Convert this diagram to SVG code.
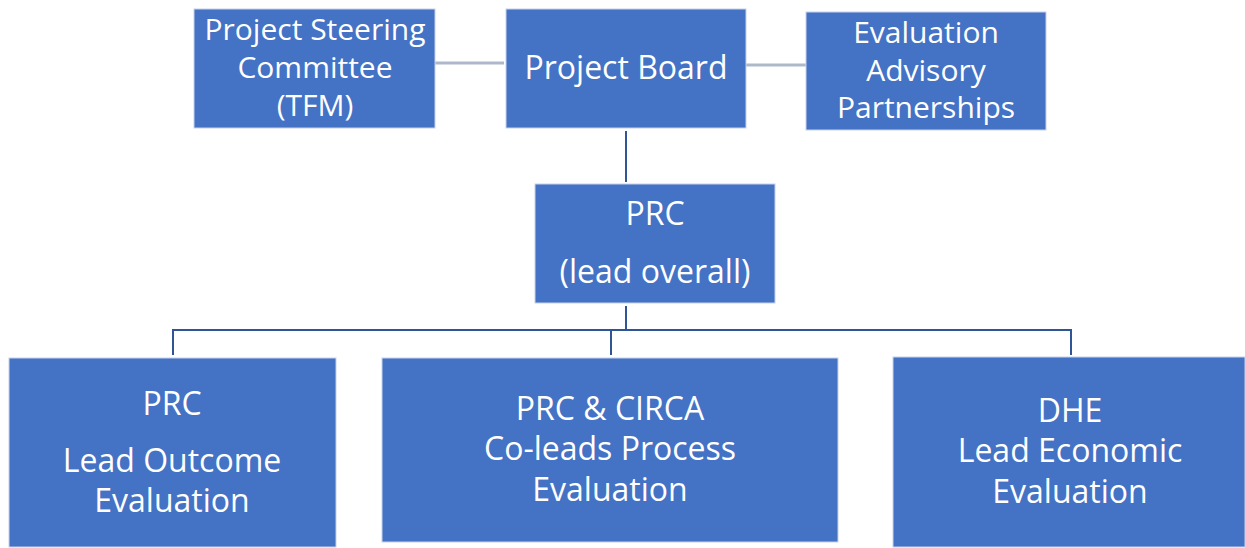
<svg xmlns="http://www.w3.org/2000/svg" width="1245" height="548" viewBox="0 0 1245 548">
  <style>
    .box { fill: #4472C4; stroke: #C5D3EC; stroke-width: 1; }
    .lbl { fill: #FFFFFF; font-family: "Open Sans", "Liberation Sans", sans-serif; font-size: 32px; text-anchor: middle; }
    .sm { font-size: 30px; }
    .side { stroke: #ADB9CA; stroke-width: 3; fill: none; }
    .tree { stroke: #2F5597; stroke-width: 2; fill: none; }
  </style>
  <rect width="1245" height="548" fill="#FFFFFF"/>

  <!-- connectors -->
  <g id="connectors">
    <line class="side" x1="435" y1="63" x2="504" y2="63"/>
    <line class="side" x1="746" y1="65" x2="814" y2="65"/>
    <line class="tree" x1="626" y1="131" x2="626" y2="182"/>
    <line class="tree" x1="626" y1="306" x2="626" y2="330"/>
    <polyline class="tree" points="173,355 173,330 1071,330 1071,355"/>
    <line class="tree" x1="611" y1="330" x2="611" y2="355"/>
  </g>

  <g id="steering">
    <rect class="box" x="194" y="9" width="241" height="119"/>
    <text class="lbl sm" x="315" y="40">Project Steering</text>
    <text class="lbl sm" x="315" y="78">Committee</text>
    <text class="lbl sm" x="315" y="116">(TFM)</text>
  </g>

  <g id="board">
    <rect class="box" x="506" y="9" width="240" height="119"/>
    <text class="lbl" x="626" y="79">Project Board</text>
  </g>

  <g id="advisory">
    <rect class="box" x="806" y="12" width="240" height="118"/>
    <text class="lbl sm" x="926" y="43">Evaluation</text>
    <text class="lbl sm" x="926" y="81">Advisory</text>
    <text class="lbl sm" x="926" y="118">Partnerships</text>
  </g>

  <g id="prc-lead">
    <rect class="box" x="535" y="184" width="240" height="119"/>
    <text class="lbl" x="655" y="225">PRC</text>
    <text class="lbl" x="655" y="283">(lead overall)</text>
  </g>

  <g id="outcome">
    <rect class="box" x="9" y="358" width="327" height="189"/>
    <text class="lbl" x="172" y="415">PRC</text>
    <text class="lbl" x="172" y="472">Lead Outcome</text>
    <text class="lbl" x="172" y="512">Evaluation</text>
  </g>

  <g id="process">
    <rect class="box" x="382" y="358" width="456" height="184"/>
    <text class="lbl" x="610" y="420">PRC &amp; CIRCA</text>
    <text class="lbl" x="610" y="460">Co-leads Process</text>
    <text class="lbl" x="610" y="501">Evaluation</text>
  </g>

  <g id="economic">
    <rect class="box" x="893" y="357" width="352" height="190"/>
    <text class="lbl" x="1070" y="422">DHE</text>
    <text class="lbl" x="1070" y="462">Lead Economic</text>
    <text class="lbl" x="1070" y="503">Evaluation</text>
  </g>
</svg>
